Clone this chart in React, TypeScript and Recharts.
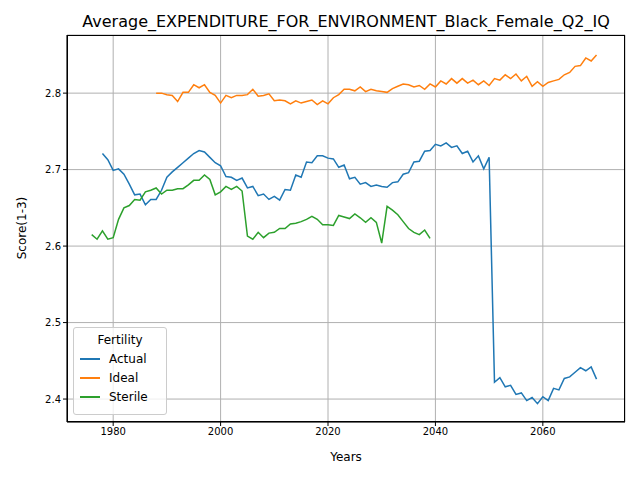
import React from 'react';
import { LineChart, Line, XAxis, YAxis, CartesianGrid } from 'recharts';

const actualStart = 1978;
const actualValues = [
  2.721, 2.713, 2.699, 2.701, 2.694, 2.681, 2.667, 2.668, 2.654, 2.661, 2.661, 2.673, 2.690, 2.697, 2.703, 2.709,
  2.715, 2.721, 2.725, 2.723, 2.716, 2.709, 2.705, 2.691, 2.690, 2.686, 2.689, 2.676, 2.678, 2.666, 2.668, 2.661,
  2.665, 2.660, 2.674, 2.673, 2.693, 2.690, 2.710, 2.709, 2.718, 2.718, 2.715, 2.714, 2.703, 2.706, 2.688, 2.690,
  2.681, 2.683, 2.678, 2.680, 2.678, 2.677, 2.683, 2.684, 2.694, 2.696, 2.710, 2.711, 2.724, 2.725, 2.733, 2.731,
  2.735, 2.729, 2.731, 2.721, 2.724, 2.710, 2.718, 2.701, 2.716, 2.422, 2.428, 2.416, 2.418, 2.406, 2.408, 2.398,
  2.402, 2.394, 2.403, 2.398, 2.414, 2.412, 2.427, 2.429, 2.435, 2.441, 2.437, 2.442, 2.426,
];

const idealStart = 1988;
const idealValues = [
  2.800, 2.800, 2.798, 2.797, 2.789, 2.801, 2.801, 2.811, 2.807, 2.811, 2.801, 2.797, 2.787, 2.797, 2.794, 2.797,
  2.797, 2.798, 2.805, 2.796, 2.797, 2.799, 2.790, 2.791, 2.790, 2.786, 2.790, 2.787, 2.789, 2.791, 2.785, 2.790,
  2.786, 2.794, 2.798, 2.805, 2.805, 2.803, 2.808, 2.802, 2.805, 2.803, 2.802, 2.801, 2.806, 2.809, 2.812, 2.811,
  2.808, 2.810, 2.805, 2.812, 2.808, 2.816, 2.812, 2.819, 2.813, 2.819, 2.813, 2.817, 2.811, 2.816, 2.810, 2.819,
  2.817, 2.824, 2.819, 2.825, 2.816, 2.822, 2.809, 2.815, 2.809, 2.814, 2.816, 2.818, 2.824, 2.827, 2.835, 2.836,
  2.846, 2.842, 2.850,
];

const sterileStart = 1976;
const sterileValues = [
  2.615, 2.609, 2.620, 2.609, 2.611, 2.635, 2.650, 2.653, 2.661, 2.660, 2.671, 2.673, 2.676, 2.668, 2.673, 2.673,
  2.675, 2.675, 2.680, 2.686, 2.686, 2.693, 2.687, 2.667, 2.671, 2.678, 2.674, 2.678, 2.672, 2.613, 2.609, 2.618,
  2.611, 2.617, 2.618, 2.623, 2.623, 2.629, 2.630, 2.632, 2.635, 2.639, 2.635, 2.628, 2.628, 2.627, 2.640, 2.638,
  2.636, 2.642, 2.637, 2.631, 2.637, 2.631, 2.604, 2.652, 2.647, 2.641, 2.632, 2.623, 2.618, 2.615, 2.621, 2.610,
];

const xTicks = [1980, 2000, 2020, 2040, 2060];
const yTicks = [2.4, 2.5, 2.6, 2.7, 2.8];

const toRows = (start: number, values: number[]) => values.map((v, i) => ({ year: start + i, value: v }));

const series = [
  { name: 'Actual', color: '#1f77b4', data: toRows(actualStart, actualValues) },
  { name: 'Ideal', color: '#ff7f0e', data: toRows(idealStart, idealValues) },
  { name: 'Sterile', color: '#2ca02c', data: toRows(sterileStart, sterileValues) },
];

const font = 'DejaVu Sans, sans-serif';

export default function App() {
  return (
    <div style={{ position: 'absolute', left: 0, top: 0, width: 640, height: 480, background: '#fff', fontFamily: font }}>
      <div style={{ position: 'absolute', top: 12, left: 67, width: 558, textAlign: 'center', fontSize: 16 }}>
        Average_EXPENDITURE_FOR_ENVIRONMENT_Black_Female_Q2_IQ
      </div>
      <LineChart width={640} height={480} margin={{ top: 35, right: 15, bottom: 28, left: 17 }}>
        <CartesianGrid stroke="#b0b0b0" strokeWidth={1} />
        <XAxis
          type="number"
          dataKey="year"
          domain={[1971.4, 2075.3]}
          ticks={xTicks}
          height={30}
          stroke="#000"
          tick={{ fill: '#000', fontSize: 10, fontFamily: font }}
          tickSize={4}
          allowDataOverflow
        />
        <YAxis
          type="number"
          domain={[2.37, 2.876]}
          ticks={yTicks}
          width={50}
          stroke="#000"
          tick={{ fill: '#000', fontSize: 10, fontFamily: font }}
          tickFormatter={(v: number) => v.toFixed(1)}
          tickSize={4}
          allowDataOverflow
        />
        {series.map((s) => (
          <Line
            key={s.name}
            data={s.data}
            dataKey="value"
            name={s.name}
            stroke={s.color}
            strokeWidth={1.5}
            dot={false}
            type="linear"
            isAnimationActive={false}
          />
        ))}
      </LineChart>
      <div style={{ position: 'absolute', left: 67, top: 35, width: 558, height: 387, border: '1px solid #000', boxSizing: 'border-box', pointerEvents: 'none' }} />
      <div style={{ position: 'absolute', top: 450, left: 67, width: 558, textAlign: 'center', fontSize: 12 }}>Years</div>
      <div style={{ position: 'absolute', left: 22, top: 228, fontSize: 12, transform: 'translate(-50%, -50%) rotate(-90deg)', whiteSpace: 'nowrap' }}>Score(1-3)</div>
      <div style={{ position: 'absolute', left: 73, top: 327, width: 94, height: 88, border: '1px solid #ccc', borderRadius: 3, background: 'rgba(255,255,255,0.8)', boxSizing: 'border-box', fontSize: 12 }}>
        <div style={{ textAlign: 'center', marginTop: 5 }}>Fertility</div>
        {series.map((s) => (
          <div key={s.name} style={{ display: 'flex', alignItems: 'center', marginTop: 5, marginLeft: 6 }}>
            <div style={{ width: 20, height: 2, background: s.color, marginRight: 9 }} />
            <span>{s.name}</span>
          </div>
        ))}
      </div>
    </div>
  );
}
